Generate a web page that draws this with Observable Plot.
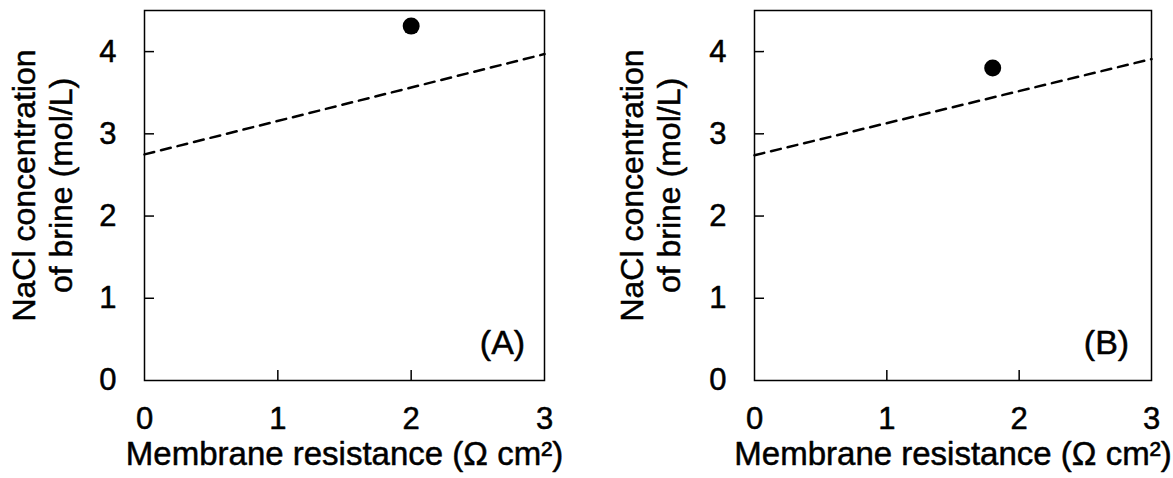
<!DOCTYPE html>
<html>
<head>
<meta charset="utf-8">
<script src="https://cdn.jsdelivr.net/npm/d3@7"></script>
<script src="https://cdn.jsdelivr.net/npm/@observablehq/plot@0.6"></script>
<style>
  html, body { margin: 0; padding: 0; background: #fff; }
  #wrap { display: flex; flex-direction: row; width: 1173px; height: 478px; }
  svg { font-family: "Liberation Sans", Arial, sans-serif; }
</style>
</head>
<body>
<div id="wrap"></div>
<script>
// ---- data ----
const panels = ["(A)", "(B)"];
const xTicks = [0, 1, 2, 3];
const yTicks = [0, 1, 2, 3, 4];
// measured point per panel: membrane resistance (Ω cm²), NaCl conc. (mol/L)
const pointX = [2.0, 1.8];
const pointY = [4.31, 3.80];
// dashed line endpoints per panel
const lineX = [0, 3];
const lineA = [2.75, 3.97];
const lineB = [2.74, 3.91];
const xTitle = "Membrane resistance (Ω cm²)";
const yTitle = "NaCl concentration\nof brine (mol/L)";

const layouts = [
  {width: 586, marginLeft: 144, marginRight: 42, lbl: -42, ytx: -103},
  {width: 587, marginLeft: 168, marginRight: 22, lbl: -45, ytx: -105}
];
const lines = [lineA, lineB];
const txt = {fill: "#000", stroke: "#000", strokeWidth: 0.5};

panels.forEach((name, i) => {
  const L = layouts[i];
  const H = 478, mt = 10, mb = 98;
  const plotW = L.width - L.marginLeft - L.marginRight;
  const plotH = H - mt - mb;
  const lineData = lineX.map((x, k) => ({x, y: lines[i][k]}));
  const chart = Plot.plot({
    width: L.width,
    height: H,
    marginLeft: L.marginLeft,
    marginRight: L.marginRight,
    marginTop: mt,
    marginBottom: mb,
    style: {fontFamily: '"Liberation Sans", Arial, sans-serif', color: "#000", background: "#fff", overflow: "visible"},
    x: {domain: [0, 3], axis: null},
    y: {domain: [0, 4.5], axis: null},
    marks: [
      // inward ticks
      Plot.ruleX(xTicks.slice(1, 3), {x: d => d, insetTop: plotH - 10, stroke: "#000", strokeWidth: 1.5}),
      Plot.ruleY(yTicks.slice(1), {y: d => d, insetRight: plotW - 10, stroke: "#000", strokeWidth: 1.5}),
      // tick labels
      Plot.text(xTicks, {x: d => d, frameAnchor: "bottom", text: d => String(d), textAnchor: "middle", lineAnchor: "middle", dy: 39, fontSize: 31, ...txt}),
      Plot.text(yTicks, {y: d => d, frameAnchor: "left", text: d => String(d), textAnchor: "end", lineAnchor: "middle", dx: -28, fontSize: 31, ...txt}),
      Plot.line(lineData, {x: "x", y: "y", stroke: "#000", strokeWidth: 2.5, strokeDasharray: "10,7"}),
      Plot.dot([{x: pointX[i], y: pointY[i]}], {x: "x", y: "y", r: 8.5, fill: "#000", stroke: null}),
      Plot.frame({stroke: "#000", strokeWidth: 1.5}),
      Plot.text([name], {frameAnchor: "bottom-right", text: d => d, textAnchor: "middle", lineAnchor: "middle", dx: L.lbl, dy: -37, fontSize: 34, ...txt}),
      Plot.text([xTitle], {frameAnchor: "bottom", text: d => d, textAnchor: "middle", lineAnchor: "middle", dy: 74, fontSize: 33, ...txt}),
      Plot.text([yTitle], {frameAnchor: "left", text: d => d, rotate: -90, textAnchor: "middle", lineAnchor: "middle", lineHeight: 1.18, dx: L.ytx, dy: -10, fontSize: 32, ...txt})
    ]
  });
  document.getElementById("wrap").appendChild(chart);
});
</script>
</body>
</html>
